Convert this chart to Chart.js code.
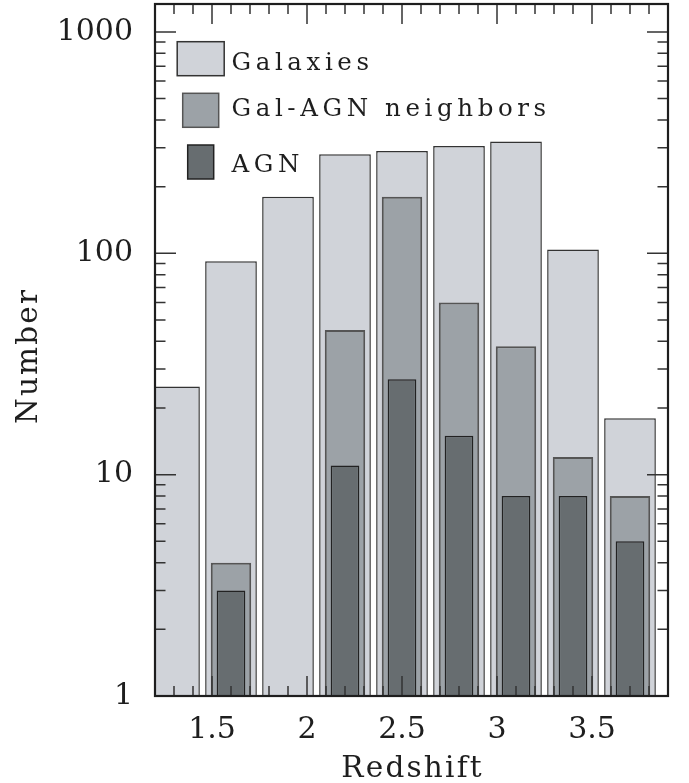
<!DOCTYPE html>
<html>
<head>
<meta charset="utf-8">
<script src="https://cdn.jsdelivr.net/npm/chart.js@4/dist/chart.umd.min.js"></script>
<style>
  html, body { margin: 0; padding: 0; background: #fff; }
  canvas { display: block; }
</style>
</head>
<body>
<canvas id="c" width="689" height="783"></canvas>
<script>
// Redshift bin centres and counts per bin
const redshift  = [1.3, 1.6, 1.9, 2.2, 2.5, 2.8, 3.1, 3.4, 3.7];
const galaxies  = [25, 92, 180, 280, 290, 305, 320, 104, 18];
const neighbors = [null, 4, null, 45, 180, 60, 38, 12, 8];
const agn       = [null, 3, null, 11, 27, 15, 8, 8, 5];

const xTicks = [1.5, 2, 2.5, 3, 3.5];
const yTicks = [1, 10, 100, 1000];
const seriesNames = ['Galaxies', 'Gal-AGN neighbors', 'AGN'];

const FONT = '"DejaVu Serif", serif';
const INK = '#1e1e1e';

function points(values) {
  return redshift.map((x, i) => ({ x: x, y: values[i] })).filter(p => p.y !== null);
}

// draw text one glyph at a time with extra tracking
function spacedText(ctx, text, x, y, spacing, align) {
  const ws = [];
  let w = 0;
  for (const ch of text) { const m = ctx.measureText(ch).width; ws.push(m); w += m; }
  w += spacing * (ws.length - 1);
  let cx = align === 'center' ? x - w / 2 : x;
  let i = 0;
  for (const ch of text) { ctx.fillText(ch, cx, y); cx += ws[i++] + spacing; }
}

// inward ticks on all four sides plus the box frame
const frameTicks = {
  id: 'frameTicks',
  afterDatasetsDraw(chart) {
    const { ctx, chartArea: a, scales } = chart;
    const x = scales.x, y = scales.y;
    ctx.save();
    ctx.strokeStyle = '#333';
    ctx.lineWidth = 1.5;
    ctx.beginPath();
    for (let d = 1; d <= 1000; d *= 10) {
      for (let k = 1; k <= 9; k++) {
        const v = d * k;
        if (v <= y.min || v > y.max) continue;
        const py = y.getPixelForValue(v);
        const len = k === 1 ? 21 : 10.5;
        ctx.moveTo(a.left, py);  ctx.lineTo(a.left + len, py);
        ctx.moveTo(a.right, py); ctx.lineTo(a.right - len, py);
      }
    }
    for (let i = 13; i <= 38; i++) {
      const px = x.getPixelForValue(i / 10);
      const len = i % 5 === 0 ? 20 : 10;
      ctx.moveTo(px, a.bottom); ctx.lineTo(px, a.bottom - len);
      ctx.moveTo(px, a.top);    ctx.lineTo(px, a.top + len);
    }
    ctx.stroke();
    ctx.lineWidth = 2.2;
    ctx.strokeStyle = INK;
    ctx.strokeRect(a.left, a.top, a.right - a.left, a.bottom - a.top);
    ctx.restore();
  }
};

// in-plot key and axis titles
const keyAndTitles = {
  id: 'keyAndTitles',
  afterDraw(chart) {
    const { ctx, chartArea: a } = chart;
    const ds = chart.data.datasets;
    const boxes = [
      { w: 47, top: 41.7, base: 70 },
      { w: 36, top: 93.3, base: 116 },
      { w: 26, top: 145, base: 171.7 }
    ];
    ctx.save();
    ctx.textBaseline = 'alphabetic';
    ctx.textAlign = 'left';
    ctx.font = '24.5px ' + FONT;
    seriesNames.forEach((name, i) => {
      const b = boxes[i];
      const d = ds[i];
      ctx.fillStyle = d.backgroundColor;
      ctx.fillRect(200.7 - b.w / 2, b.top, b.w, 34);
      ctx.strokeStyle = d.borderColor;
      ctx.lineWidth = 1.5;
      ctx.strokeRect(200.7 - b.w / 2, b.top, b.w, 34);
      ctx.fillStyle = INK;
      spacedText(ctx, name, 231.5, b.base, 4.6, 'left');
    });

    ctx.font = '29.5px ' + FONT;
    spacedText(ctx, 'Redshift', (a.left + a.right) / 2, 776.5, 2.2, 'center');
    ctx.translate(36.7, 357);
    ctx.rotate(-Math.PI / 2);
    spacedText(ctx, 'Number', 0, 0, 2.2, 'center');
    ctx.restore();
  }
};

new Chart(document.getElementById('c'), {
  type: 'bar',
  data: {
    datasets: [
      {
        label: seriesNames[0], data: points(galaxies), order: 3,
        backgroundColor: '#d0d3d9', borderColor: '#333', borderWidth: 1.5,
        barPercentage: 0.907, categoryPercentage: 1, grouped: false
      },
      {
        label: seriesNames[1], data: points(neighbors), order: 2,
        backgroundColor: '#9ca2a7', borderColor: '#555', borderWidth: 2,
        barPercentage: 0.709, categoryPercentage: 1, grouped: false
      },
      {
        label: seriesNames[2], data: points(agn), order: 1,
        backgroundColor: '#676d70', borderColor: '#222', borderWidth: 1.5,
        barPercentage: 0.503, categoryPercentage: 1, grouped: false
      }
    ]
  },
  options: {
    responsive: false,
    devicePixelRatio: 1,
    animation: false,
    layout: { padding: { left: 0, right: 21, top: 4, bottom: 0 } },
    plugins: { legend: { display: false }, tooltip: { enabled: false } },
    scales: {
      x: {
        type: 'linear', min: 1.2, max: 3.9, offset: false,
        grid: { display: false, drawTicks: false },
        border: { display: false },
        afterBuildTicks: s => { s.ticks = xTicks.map(v => ({ value: v })); },
        afterFit: s => { s.height = 87; s.paddingLeft = 0; s.paddingRight = 0; },
        ticks: {
          padding: 16, color: INK, maxRotation: 0, autoSkip: false,
          font: { family: FONT, size: 30 },
          callback: v => String(v)
        }
      },
      y: {
        type: 'logarithmic', min: 1, max: 1337,
        grid: { display: false, drawTicks: false },
        border: { display: false },
        afterBuildTicks: s => { s.ticks = yTicks.map(v => ({ value: v })); },
        afterFit: s => { s.width = 155; s.paddingTop = 0; s.paddingBottom = 0; },
        ticks: {
          padding: 22, color: INK, autoSkip: false,
          font: { family: FONT, size: 30 },
          callback: v => String(v)
        }
      }
    }
  },
  plugins: [frameTicks, keyAndTitles]
});
</script>
</body>
</html>
